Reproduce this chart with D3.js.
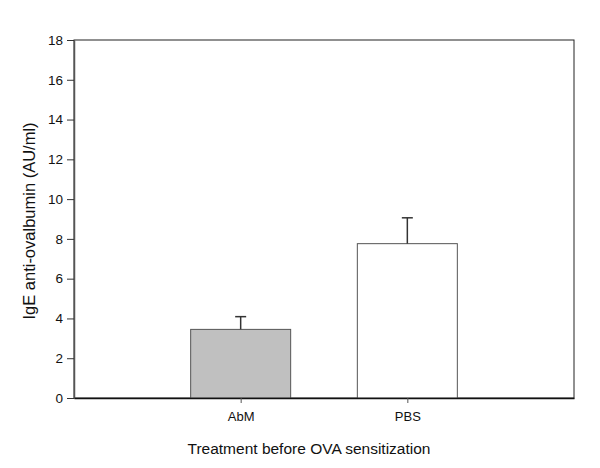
<!DOCTYPE html>
<html>
<head>
<meta charset="utf-8">
<script src="https://cdn.jsdelivr.net/npm/d3@7"></script>
<style>
  body { margin: 0; background: #fff; }
  text { font-family: "Liberation Sans", Arial, sans-serif; fill: #111; }
</style>
</head>
<body>
<svg id="chart" width="600" height="468"></svg>
<script>
// data
const groups = ["AbM", "PBS"];
const means = [3.45, 7.76];
const errors = [0.64, 1.3];
const fills = ["#c0c0c0", "#ffffff"];
const yTicks = [0, 2, 4, 6, 8, 10, 12, 14, 16, 18];

const margin = { top: 40, right: 26, bottom: 70, left: 74 };
const width = 600 - margin.left - margin.right;
const height = 468 - margin.top - margin.bottom;

const svg = d3.select("#chart");
const g = svg.append("g").attr("transform", `translate(${margin.left},${margin.top})`);

const x = d3.scalePoint().domain(groups).range([0, width]).padding(1);
const y = d3.scaleLinear().domain([0, 18]).range([height, 0]);
const barW = width * 0.2;

// frame
g.append("rect")
  .attr("width", width).attr("height", height)
  .attr("fill", "none").attr("stroke", "#222").attr("stroke-width", 1);

// bars
g.selectAll("rect.bar")
  .data(groups)
  .enter()
  .append("rect")
  .attr("class", "bar")
  .attr("x", (d) => x(d) - barW / 2)
  .attr("y", (d, i) => y(means[i]))
  .attr("width", barW)
  .attr("height", (d, i) => height - y(means[i]))
  .attr("fill", (d, i) => fills[i])
  .attr("stroke", "#555")
  .attr("stroke-width", 1);

// error bars (upper only)
groups.forEach((d, i) => {
  g.append("line")
    .attr("x1", x(d)).attr("x2", x(d))
    .attr("y1", y(means[i])).attr("y2", y(means[i] + errors[i]))
    .attr("stroke", "#333").attr("stroke-width", 1.5);
  g.append("line")
    .attr("x1", x(d) - 5.5).attr("x2", x(d) + 5.5)
    .attr("y1", y(means[i] + errors[i])).attr("y2", y(means[i] + errors[i]))
    .attr("stroke", "#333").attr("stroke-width", 1.5);
});

// y axis
const yAxis = g.append("g")
  .call(d3.axisLeft(y).tickValues(yTicks).tickSize(7).tickPadding(4).tickSizeOuter(0));
yAxis.select(".domain").attr("stroke", "#555").attr("stroke-width", 1.5);
yAxis.selectAll(".tick line").attr("stroke", "#333");
yAxis.selectAll(".tick text").attr("font-size", 13.5).attr("font-family", "Liberation Sans, Arial, sans-serif").attr("fill", "#111");

// x axis
const xAxis = g.append("g")
  .attr("transform", `translate(0,${height})`)
  .call(d3.axisBottom(x).tickSize(5).tickPadding(9).tickSizeOuter(0));
xAxis.select(".domain").attr("stroke", "#111").attr("stroke-width", 1.5);
xAxis.selectAll(".tick line").attr("stroke", "#555");
xAxis.selectAll(".tick text").attr("font-size", 13).attr("font-family", "Liberation Sans, Arial, sans-serif").attr("fill", "#111");

// titles
svg.append("text")
  .attr("transform", `translate(35,${margin.top + height / 2 + 2}) rotate(-90)`)
  .attr("text-anchor", "middle")
  .attr("font-size", 16.5)
  .text("IgE anti-ovalbumin (AU/ml)");

svg.append("text")
  .attr("x", margin.left + width / 2 - 15)
  .attr("y", 454)
  .attr("text-anchor", "middle")
  .attr("font-size", 15.5)
  .text("Treatment before OVA sensitization");
</script>
</body>
</html>
